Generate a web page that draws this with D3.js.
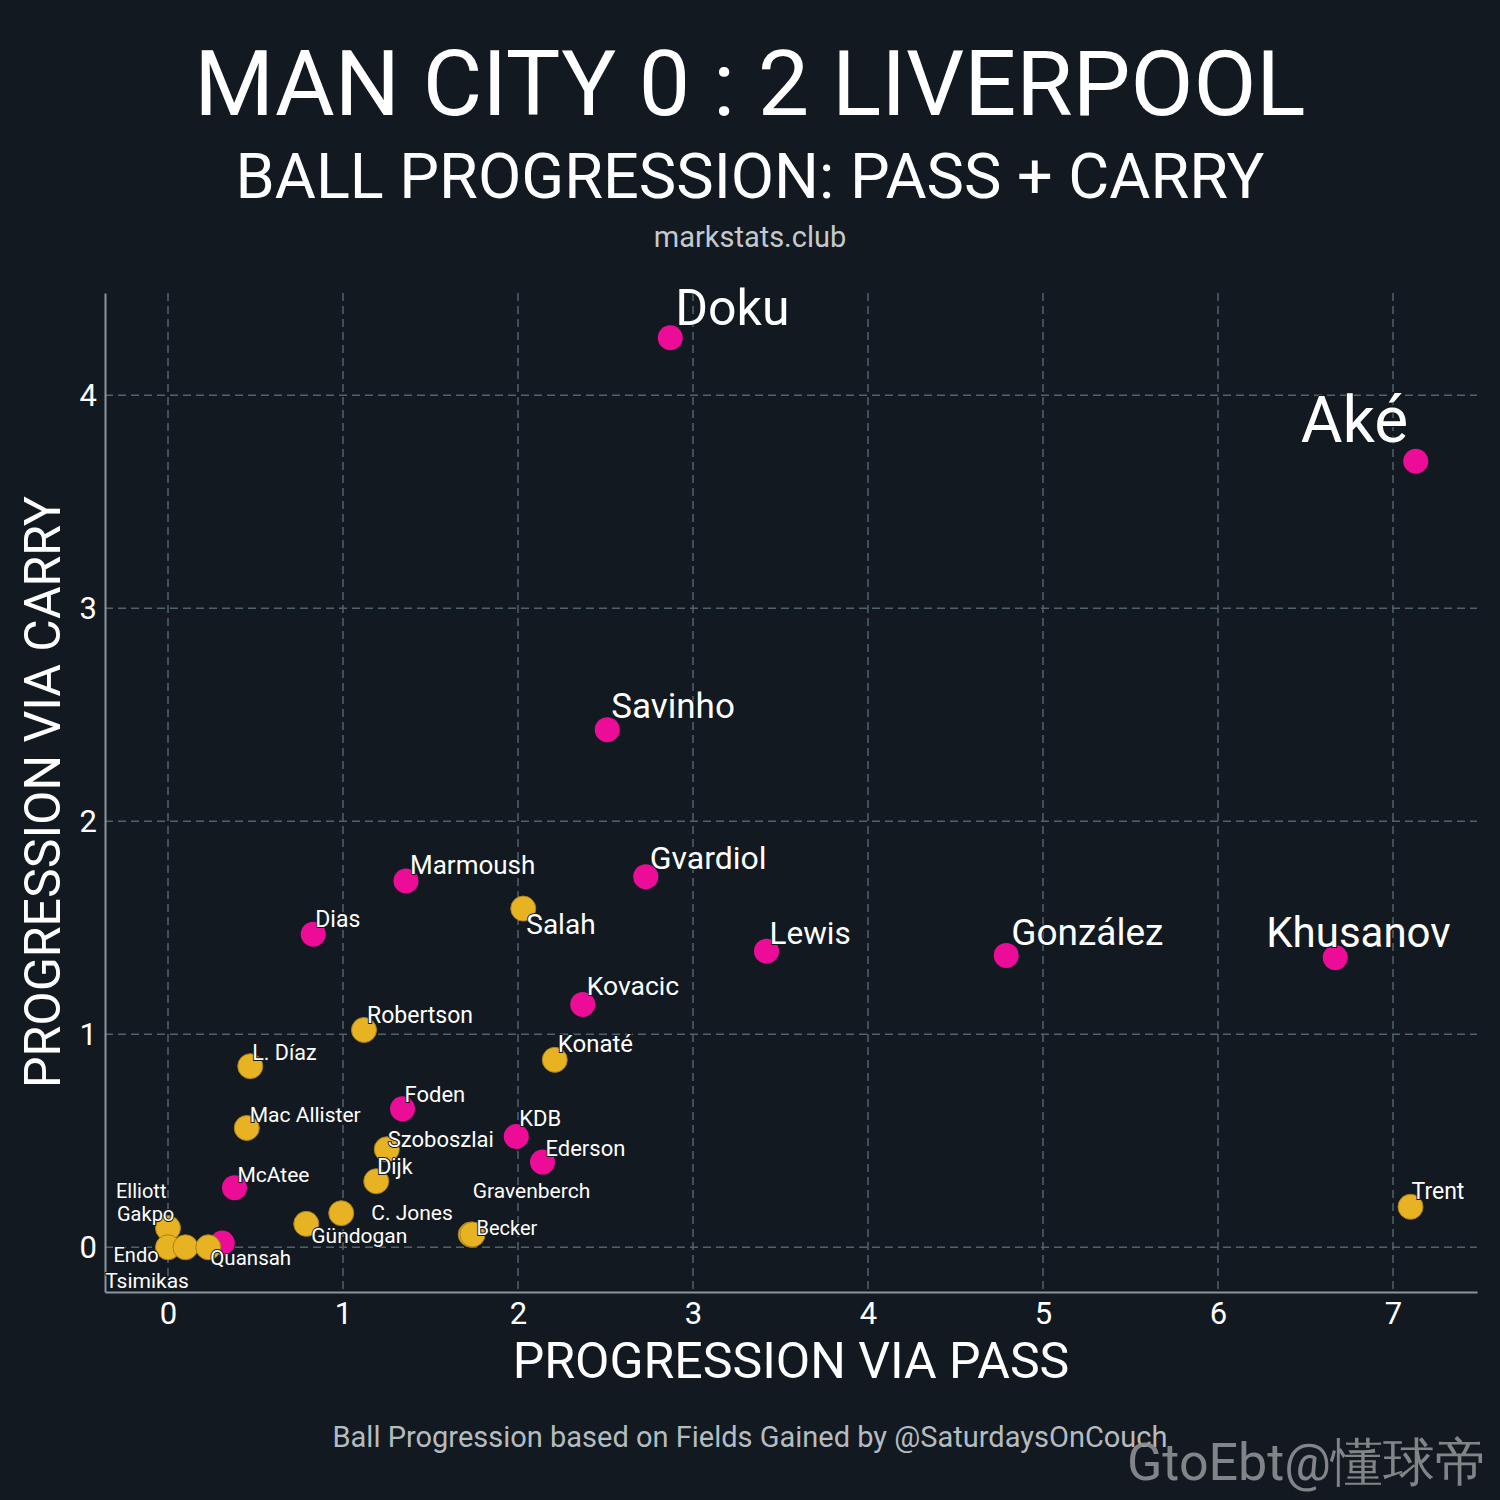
<!DOCTYPE html>
<html>
<head>
<meta charset="utf-8">
<script src="https://cdn.jsdelivr.net/npm/d3@7"></script>
<style>
  html, body { margin: 0; padding: 0; background: #121920; }
  text { font-family: Roboto, "Noto Sans", sans-serif; }
</style>
</head>
<body>
<script>
// players, progression via pass (x) and via carry (y)
var players = ["Doku", "Aké", "Savinho", "Gvardiol", "Marmoush", "Dias", "Lewis", "González",
  "Khusanov", "Kovacic", "Foden", "KDB", "Ederson", "McAtee", "Gündogan",
  "Salah", "Robertson", "Konaté", "L. Díaz", "Mac Allister", "Szoboszlai", "Dijk", "Trent",
  "C. Jones", "Gravenberch", "Becker", "Quansah", "Gakpo", "Elliott", "Endo", "Tsimikas"];
var passProg = [2.87, 7.13, 2.51, 2.73, 1.36, 0.83, 3.42, 4.79,
  6.67, 2.37, 1.34, 1.99, 2.14, 0.38, 0.31,
  2.03, 1.12, 2.21, 0.47, 0.45, 1.25, 1.19, 7.10,
  0.99, 1.73, 1.74, 0.79, 0.0, 0.0, 0.10, 0.23];
var carryProg = [4.27, 3.69, 2.43, 1.74, 1.72, 1.47, 1.39, 1.37,
  1.36, 1.14, 0.65, 0.52, 0.40, 0.28, 0.02,
  1.59, 1.02, 0.88, 0.85, 0.56, 0.46, 0.31, 0.19,
  0.16, 0.06, 0.06, 0.11, 0.09, 0.0, 0.0, 0.0];
var team = ["MCI", "MCI", "MCI", "MCI", "MCI", "MCI", "MCI", "MCI",
  "MCI", "MCI", "MCI", "MCI", "MCI", "MCI", "MCI",
  "LIV", "LIV", "LIV", "LIV", "LIV", "LIV", "LIV", "LIV",
  "LIV", "LIV", "LIV", "LIV", "LIV", "LIV", "LIV", "LIV"];
var xTicks = [0, 1, 2, 3, 4, 5, 6, 7];
var yTicks = [0, 1, 2, 3, 4];

// label placement (px offset from the dot, font size)
var labelStyle = {
  "Doku": [5, -13, 50], "Aké": [-115, -19, 64], "Savinho": [4, -12, 35], "Gvardiol": [4, -8, 32],
  "Marmoush": [4, -7, 26], "Dias": [2, -7, 23], "Lewis": [3, -7, 31.5], "González": [5, -10, 37],
  "Khusanov": [-69, -11, 42], "Kovacic": [4, -9, 26.5], "Foden": [2, -7, 22], "KDB": [3, -11, 22],
  "Ederson": [3, -6, 22], "McAtee": [3, -6, 21], "Gündogan": [89, 0, 21],
  "Salah": [3, 25, 28], "Robertson": [3, -7, 23], "Konaté": [3, -8, 24], "L. Díaz": [2, -6, 21.5],
  "Mac Allister": [3, -6, 21], "Szoboszlai": [1, -2, 22], "Dijk": [1, -7, 21.5], "Trent": [1, -8, 23],
  "C. Jones": [30, 7, 21], "Gravenberch": [2, -36, 21], "Becker": [4, 1, 20], "Quansah": [-96, 41, 20.5],
  "Gakpo": [-51, -7, 20], "Elliott": [-52, -49, 20], "Endo": [-72, 15, 20], "Tsimikas": [-103, 41, 21]
};
var teamColor = { MCI: "#ec0c98", LIV: "#e8b322" };

var W = 1500, H = 1500;
var bg = "#121920";

var data = players.map(function (p, i) {
  return { name: p, x: passProg[i], y: carryProg[i], team: team[i] };
});

var svg = d3.select("body").append("svg")
  .attr("width", W)
  .attr("height", H);

svg.append("rect").attr("width", W).attr("height", H).attr("fill", bg);

var x = d3.scaleLinear().domain([-0.36, 7.48]).range([105, 1477]);
var y = d3.scaleLinear().domain([-0.21, 4.48]).range([1292, 293]);

// titles
svg.append("text").attr("x", 750).attr("y", 115).attr("text-anchor", "middle")
  .attr("font-size", 91.5).attr("fill", "#fff").text("MAN CITY 0 : 2 LIVERPOOL");
svg.append("text").attr("x", 750).attr("y", 198).attr("text-anchor", "middle")
  .attr("font-size", 63).attr("fill", "#fff").text("BALL PROGRESSION: PASS + CARRY");
svg.append("text").attr("x", 750).attr("y", 247).attr("text-anchor", "middle")
  .attr("font-size", 29).attr("fill", "#c3c9cd").text("markstats.club");

// grid
var grid = svg.append("g").attr("stroke", "#52626b").attr("stroke-width", 1.5)
  .attr("stroke-dasharray", "8,5");
grid.selectAll(".gx").data(xTicks).join("line")
  .attr("x1", function (d) { return x(d); }).attr("x2", function (d) { return x(d); })
  .attr("y1", y.range()[1]).attr("y2", y.range()[0]);
grid.selectAll(".gy").data(yTicks).join("line")
  .attr("x1", x.range()[0]).attr("x2", x.range()[1])
  .attr("y1", function (d) { return y(d); }).attr("y2", function (d) { return y(d); });

// axes
var xAxis = svg.append("g").attr("transform", "translate(0," + y.range()[0] + ")")
  .call(d3.axisBottom(x).tickValues(xTicks).tickSize(0).tickPadding(10).tickFormat(d3.format("d")));
var yAxis = svg.append("g").attr("transform", "translate(" + x.range()[0] + ",0)")
  .call(d3.axisLeft(y).tickValues(yTicks).tickSize(0).tickPadding(8).tickFormat(d3.format("d")));
[xAxis, yAxis].forEach(function (a) {
  a.select(".domain").attr("stroke", "#8b969b").attr("stroke-width", 2);
  a.selectAll("text").attr("fill", "#fff").attr("font-size", 31)
    .attr("font-family", "Roboto, sans-serif");
});

svg.append("text").attr("x", 791).attr("y", 1378).attr("text-anchor", "middle")
  .attr("font-size", 50).attr("fill", "#fff").text("PROGRESSION VIA PASS");
svg.append("text").attr("transform", "translate(60,792) rotate(-90)").attr("text-anchor", "middle")
  .attr("font-size", 50).attr("fill", "#fff").text("PROGRESSION VIA CARRY");

// dots
svg.append("g").selectAll("circle").data(data).join("circle")
  .attr("cx", function (d) { return x(d.x); })
  .attr("cy", function (d) { return y(d.y); })
  .attr("r", 12.5)
  .attr("fill", function (d) { return teamColor[d.team]; })
  .attr("stroke", function (d) { return d.team === "LIV" ? "#a9821a" : "none"; })
  .attr("stroke-width", 1);

// labels
svg.append("g").selectAll("text").data(data).join("text")
  .attr("x", function (d) { return x(d.x) + labelStyle[d.name][0]; })
  .attr("y", function (d) { return y(d.y) + labelStyle[d.name][1]; })
  .attr("font-size", function (d) { return labelStyle[d.name][2]; })
  .attr("fill", "#fff")
  .attr("stroke", bg).attr("stroke-width", 2).attr("paint-order", "stroke")
  .text(function (d) { return d.name; });

// footer
svg.append("text").attr("x", 750).attr("y", 1447).attr("text-anchor", "middle")
  .attr("font-size", 29).attr("fill", "#b5bcc0")
  .text("Ball Progression based on Fields Gained by @SaturdaysOnCouch");
svg.append("text").attr("x", 1487).attr("y", 1480).attr("text-anchor", "end")
  .attr("font-size", 52).attr("fill", "#8e9193").attr("fill-opacity", 0.9)
  .attr("font-family", "\"Noto Sans\", \"Noto Sans CJK SC\", sans-serif")
  .text("GtoEbt@懂球帝");
</script>
</body>
</html>
